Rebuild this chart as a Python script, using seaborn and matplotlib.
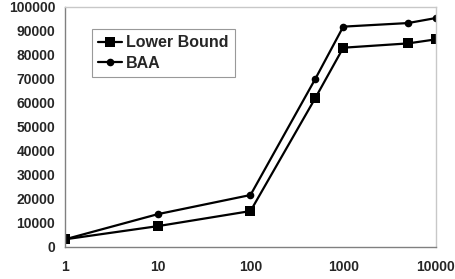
import pandas as pd
import matplotlib.pyplot as plt
import seaborn as sns
from matplotlib.ticker import FixedLocator, FixedFormatter, NullLocator

x_values = [1, 10, 100, 500, 1000, 5000, 10000]
lower_bound = [3000, 8500, 14800, 62000, 83000, 84800, 86500]
baa = [3000, 13500, 21500, 70000, 91800, 93300, 95400]
x_ticks = [1, 10, 100, 1000, 10000]
x_tick_labels = ["1", "10", "100", "1000", "10000"]
y_ticks = [0, 10000, 20000, 30000, 40000, 50000, 60000, 70000, 80000, 90000, 100000]

df = pd.DataFrame({
    "x": x_values * 2,
    "value": lower_bound + baa,
    "Series": ["Lower Bound"] * len(x_values) + ["BAA"] * len(x_values),
})

sns.set_theme(style="white")
plt.rcParams['font.family'] = ['Liberation Sans', 'DejaVu Sans']
plt.rcParams['font.weight'] = 'bold'

fig = plt.figure(figsize=(4.55, 2.79), dpi=100)
ax = fig.add_axes([65 / 455, 1 - 246.5 / 279, (436 - 65) / 455, (246.5 - 7) / 279])

sns.lineplot(
    data=df, x="x", y="value", hue="Series", style="Series",
    palette=["black", "black"], markers={"Lower Bound": "s", "BAA": "o"},
    dashes=False, linewidth=1.6, markeredgewidth=0, ax=ax,
)
for line in ax.lines:
    if line.get_marker() == "s":
        line.set_markersize(7.5)
    else:
        line.set_markersize(5.5)

ax.set_xscale("log")
ax.set_xlim(1, 10000)
ax.set_ylim(0, 100000)
ax.xaxis.set_major_locator(FixedLocator(x_ticks))
ax.xaxis.set_major_formatter(FixedFormatter(x_tick_labels))
ax.xaxis.set_minor_locator(NullLocator())
ax.set_yticks(y_ticks)
ax.set_yticklabels([str(v) for v in y_ticks])
ax.set_xlabel("")
ax.set_ylabel("")

ax.tick_params(axis="both", which="major", labelsize=10, length=4, width=1,
               color="#808080", direction="out")
ax.tick_params(axis="x", pad=6)
ax.tick_params(axis="y", pad=3)
for lab in ax.get_xticklabels() + ax.get_yticklabels():
    lab.set_fontweight("bold")

ax.spines["left"].set_color("#808080")
ax.spines["bottom"].set_color("#808080")
ax.spines["top"].set_color("#c8c8c8")
ax.spines["right"].set_color("#c8c8c8")
for s in ax.spines.values():
    s.set_linewidth(1)

handles, labels = ax.get_legend_handles_labels()
leg = ax.legend(handles, labels, loc="upper left",
                bbox_to_anchor=(92 / 455, 1 - 29 / 279), bbox_transform=fig.transFigure,
                prop={"weight": "bold", "size": 11.5}, frameon=True, fancybox=False,
                edgecolor="#808080", handlelength=1.5, handletextpad=0.25,
                borderpad=0.4, labelspacing=0.35, borderaxespad=0)
leg.get_frame().set_linewidth(0.8)

fig.savefig("out.png", dpi=100)
